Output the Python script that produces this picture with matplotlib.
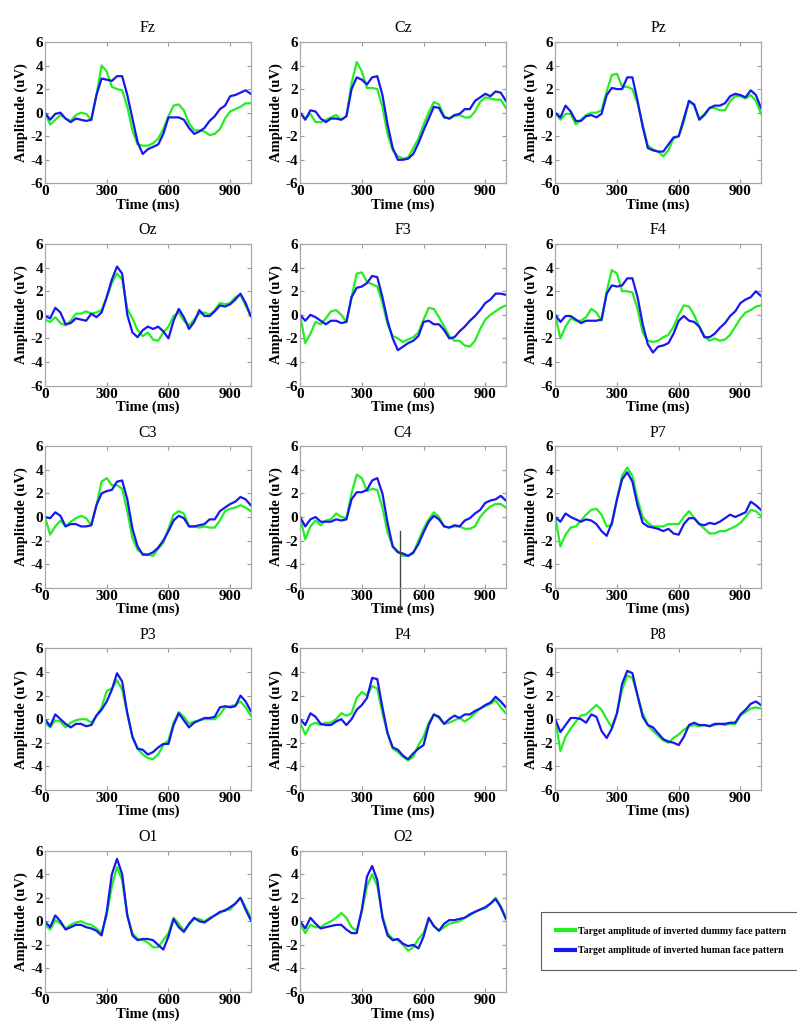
import numpy as np
import matplotlib.pyplot as plt
from matplotlib.lines import Line2D

plt.rcParams['font.family'] = ['Liberation Serif', 'DejaVu Serif']
plt.rcParams['axes.unicode_minus'] = False

# time axis (ms), values read every 25 ms
t = np.arange(0, 1001, 25)

# green = inverted dummy face, blue = inverted human face
fz_dummy = [0, -1.0, -0.6, -0.2, -0.5, -0.7, -0.2, 0.0, -0.1, -0.6, 1.5, 4.0, 3.5, 2.2, 2.0, 1.9, 0.5, -1.5, -2.7, -2.8, -2.8, -2.6, -2.2, -1.4, -0.3, 0.6, 0.7, 0.2, -0.9, -1.5, -1.5, -1.6, -1.9, -1.8, -1.4, -0.5, 0.1, 0.3, 0.5, 0.8, 0.8]
fz_human = [0, -0.6, -0.1, 0.0, -0.5, -0.8, -0.5, -0.6, -0.7, -0.6, 1.5, 2.9, 2.8, 2.7, 3.1, 3.1, 1.5, -0.5, -2.5, -3.5, -3.1, -2.9, -2.7, -1.8, -0.4, -0.4, -0.4, -0.6, -1.3, -1.8, -1.6, -1.3, -0.7, -0.3, 0.3, 0.6, 1.4, 1.5, 1.7, 1.9, 1.6]
cz_dummy = [0, -0.5, -0.1, -0.8, -0.8, -0.6, -0.4, -0.2, -0.6, -0.3, 2.5, 4.3, 3.5, 2.1, 2.1, 2.0, 0.5, -1.8, -3.2, -3.7, -3.9, -3.8, -3.0, -2.2, -1.0, 0.0, 0.9, 0.7, -0.3, -0.5, -0.3, -0.2, -0.4, -0.4, 0.1, 0.9, 1.3, 1.2, 1.1, 1.1, 0.4]
cz_human = [0, -0.6, 0.2, 0.1, -0.5, -0.8, -0.5, -0.5, -0.6, -0.3, 2.0, 3.0, 2.8, 2.4, 3.0, 3.1, 1.5, -1.0, -3.0, -4.0, -4.0, -3.9, -3.5, -2.6, -1.5, -0.5, 0.5, 0.4, -0.4, -0.5, -0.2, -0.1, 0.3, 0.3, 1.0, 1.3, 1.6, 1.4, 1.8, 1.7, 1.0]
pz_dummy = [0, -0.6, -0.1, -0.1, -1.0, -0.6, -0.2, 0.0, 0.0, 0.2, 1.8, 3.2, 3.3, 2.2, 2.2, 2.0, 0.8, -1.0, -2.8, -3.1, -3.3, -3.7, -3.2, -2.2, -2.0, -0.8, 1.0, 0.6, -0.5, -0.1, 0.4, 0.4, 0.2, 0.2, 1.0, 1.4, 1.4, 1.2, 1.5, 1.0, -0.1]
pz_human = [0, -0.4, 0.6, 0.1, -0.7, -0.7, -0.3, -0.2, -0.4, -0.1, 1.5, 2.1, 2.0, 2.0, 3.0, 3.0, 1.0, -1.2, -3.0, -3.2, -3.3, -3.3, -2.7, -2.1, -2.0, -0.5, 1.0, 0.7, -0.6, -0.2, 0.4, 0.6, 0.6, 0.8, 1.4, 1.6, 1.5, 1.3, 1.9, 1.5, 0.4]
oz_dummy = [-0.4, -0.6, -0.2, -0.7, -0.9, -0.5, 0.1, 0.1, 0.3, 0.1, 0.2, 0.4, 1.5, 2.7, 3.5, 3.0, 0.5, -0.3, -1.3, -1.8, -1.5, -2.1, -2.2, -1.5, -1.0, -0.1, 0.2, -0.5, -0.9, -0.4, 0.1, 0.2, 0.0, 0.4, 1.0, 0.9, 1.0, 1.5, 1.7, 0.8, -0.1]
oz_human = [-0.1, -0.3, 0.6, 0.2, -0.8, -0.7, -0.3, -0.4, -0.5, 0.1, -0.2, 0.2, 1.5, 3.0, 4.1, 3.5, 0.0, -1.5, -1.9, -1.3, -1.0, -1.2, -1.0, -1.4, -2.0, -0.5, 0.5, -0.2, -1.2, -0.6, 0.4, -0.1, -0.1, 0.3, 0.8, 0.7, 0.9, 1.3, 1.8, 1.0, -0.1]
f3_dummy = [0, -2.4, -1.6, -0.6, -0.8, -0.3, 0.3, 0.4, 0.0, -0.6, 1.5, 3.5, 3.6, 2.8, 2.6, 2.4, 1.0, -0.8, -1.8, -2.0, -2.3, -2.1, -1.9, -1.5, -0.4, 0.6, 0.5, -0.2, -1.0, -1.8, -2.2, -2.2, -2.6, -2.7, -2.2, -1.2, -0.4, 0.0, 0.3, 0.6, 0.8]
f3_human = [0, -0.5, 0.0, -0.2, -0.5, -0.8, -0.5, -0.5, -0.7, -0.6, 1.5, 2.3, 2.4, 2.7, 3.3, 3.2, 1.5, -0.5, -2.0, -3.0, -2.7, -2.4, -2.2, -1.8, -0.6, -0.5, -0.8, -0.8, -1.3, -2.0, -1.9, -1.4, -1.0, -0.5, -0.1, 0.4, 1.0, 1.3, 1.8, 1.8, 1.7]
f4_dummy = [0, -2.0, -1.0, -0.3, -0.5, -0.5, -0.2, 0.5, 0.2, -0.5, 2.0, 3.8, 3.5, 2.0, 2.0, 1.9, 0.5, -1.5, -2.2, -2.3, -2.2, -1.9, -1.7, -1.0, 0.0, 0.8, 0.7, 0.0, -1.0, -1.8, -2.2, -2.0, -2.2, -2.1, -1.7, -1.0, -0.3, 0.2, 0.4, 0.7, 0.8]
f4_human = [0, -0.6, -0.1, -0.1, -0.4, -0.7, -0.5, -0.5, -0.5, -0.4, 1.8, 2.5, 2.4, 2.5, 3.1, 3.1, 1.5, -0.8, -2.5, -3.2, -2.7, -2.6, -2.4, -1.6, -0.5, -0.1, -0.5, -0.6, -1.0, -1.9, -1.9, -1.6, -1.1, -0.7, -0.1, 0.3, 1.0, 1.3, 1.5, 2.0, 1.6]
c3_dummy = [0, -1.5, -0.8, -0.3, -0.8, -0.4, -0.1, 0.1, -0.1, -0.7, 1.0, 3.0, 3.3, 2.7, 2.7, 2.4, 0.5, -1.8, -2.8, -3.1, -3.2, -3.3, -2.7, -2.2, -1.0, 0.2, 0.5, 0.3, -0.8, -0.8, -0.9, -0.8, -0.9, -0.9, -0.3, 0.5, 0.7, 0.8, 1.0, 0.8, 0.5]
c3_human = [0, -0.1, 0.4, 0.1, -0.8, -0.6, -0.6, -0.8, -0.8, -0.7, 1.0, 2.0, 2.2, 2.3, 3.0, 3.1, 1.5, -1.0, -2.5, -3.2, -3.2, -3.0, -2.6, -2.0, -1.2, -0.3, 0.1, -0.1, -0.8, -0.8, -0.7, -0.6, -0.2, -0.2, 0.5, 0.8, 1.1, 1.3, 1.7, 1.5, 1.0]
c4_dummy = [0, -1.9, -0.8, -0.3, -0.7, -0.3, -0.2, 0.3, 0.0, -0.1, 2.0, 3.6, 3.3, 2.2, 2.4, 2.3, 0.8, -1.3, -2.5, -2.9, -3.3, -3.3, -3.1, -2.0, -1.0, -0.2, 0.4, 0.0, -0.8, -0.9, -0.8, -0.8, -1.0, -1.0, -0.8, 0.0, 0.5, 0.9, 1.1, 1.1, 0.8]
c4_human = [0, -0.8, -0.2, 0.0, -0.4, -0.4, -0.4, -0.2, -0.3, -0.2, 1.5, 2.1, 2.1, 2.3, 3.1, 3.3, 2.0, -0.5, -2.5, -3.0, -3.1, -3.3, -3.0, -2.3, -1.3, -0.4, 0.1, -0.2, -0.8, -0.9, -0.7, -0.8, -0.3, -0.1, 0.3, 0.6, 1.2, 1.4, 1.5, 1.8, 1.4]
p7_dummy = [0, -2.5, -1.5, -0.9, -0.8, -0.3, 0.2, 0.6, 0.7, 0.2, -0.8, -0.7, 1.5, 3.5, 4.2, 3.5, 1.5, 0.0, -0.5, -0.8, -0.8, -0.8, -0.6, -0.6, -0.6, 0.0, 0.5, -0.1, -0.6, -1.0, -1.4, -1.4, -1.2, -1.2, -1.0, -0.8, -0.5, 0.0, 0.6, 0.5, 0.1]
p7_human = [0, -0.4, 0.3, 0.0, -0.2, -0.4, -0.2, -0.3, -0.6, -1.2, -1.6, -0.5, 1.5, 3.2, 3.8, 3.0, 1.0, -0.5, -0.8, -0.9, -1.0, -1.2, -1.0, -1.4, -1.5, -0.6, -0.1, -0.1, -0.6, -0.7, -0.5, -0.6, -0.4, -0.1, 0.2, 0.0, 0.2, 0.4, 1.3, 1.0, 0.6]
p3_dummy = [-0.3, -0.7, -0.1, -0.2, -0.7, -0.3, -0.1, 0.0, 0.0, -0.3, 0.3, 1.0, 2.4, 2.6, 3.3, 2.5, 0.5, -1.5, -2.5, -3.0, -3.3, -3.4, -3.0, -2.2, -1.8, -0.3, 0.6, 0.2, -0.4, -0.2, -0.1, 0.0, 0.0, 0.0, 0.4, 1.0, 1.1, 1.2, 1.5, 1.0, 0.3]
p3_human = [0, -0.6, 0.4, 0.0, -0.4, -0.7, -0.4, -0.4, -0.6, -0.5, 0.3, 0.8, 1.5, 2.5, 3.9, 3.2, 0.5, -1.5, -2.5, -2.6, -3.0, -2.8, -2.4, -2.1, -2.1, -0.5, 0.5, -0.1, -0.7, -0.3, -0.1, 0.1, 0.1, 0.2, 1.0, 1.1, 1.0, 1.1, 2.0, 1.5, 0.7]
p4_dummy = [-0.3, -1.3, -0.5, -0.3, -0.5, -0.3, -0.3, 0.0, 0.5, 0.3, 0.5, 1.8, 2.3, 2.0, 2.8, 2.6, 0.5, -1.2, -2.5, -2.8, -3.2, -3.5, -3.2, -2.2, -1.5, -0.3, 0.4, 0.1, -0.4, -0.3, -0.1, 0.1, -0.2, 0.1, 0.5, 0.9, 1.1, 1.3, 1.6, 1.0, 0.5]
p4_human = [0, -0.5, 0.5, 0.2, -0.4, -0.5, -0.5, -0.2, 0.0, -0.5, 0.0, 0.8, 1.2, 1.8, 3.5, 3.4, 1.0, -1.2, -2.4, -2.6, -3.1, -3.4, -2.9, -2.5, -2.2, -0.5, 0.4, 0.2, -0.4, 0.0, 0.3, 0.1, 0.4, 0.4, 0.7, 0.9, 1.2, 1.4, 1.9, 1.5, 1.0]
p8_dummy = [0, -2.7, -1.5, -0.8, -0.2, 0.3, 0.4, 0.8, 1.2, 0.8, 0.0, -0.7, 0.5, 2.5, 3.7, 3.5, 2.0, 0.5, -0.5, -1.0, -1.4, -1.8, -2.0, -1.6, -1.3, -0.9, -0.6, -0.5, -0.6, -0.5, -0.6, -0.5, -0.4, -0.5, -0.4, -0.4, 0.3, 0.6, 0.9, 1.0, 0.9]
p8_human = [0, -1.1, -0.5, 0.1, 0.1, 0.0, -0.3, 0.4, 0.2, -1.0, -1.6, -0.8, 0.5, 3.0, 4.1, 3.9, 2.0, 0.2, -0.5, -0.7, -1.2, -1.7, -1.9, -2.0, -2.2, -1.5, -0.5, -0.3, -0.5, -0.5, -0.6, -0.4, -0.4, -0.4, -0.3, -0.3, 0.4, 0.8, 1.3, 1.5, 1.2]
o1_dummy = [-0.3, -0.7, 0.1, -0.2, -0.6, -0.3, -0.1, 0.0, -0.2, -0.3, -0.6, -1.0, 0.5, 3.0, 4.6, 3.5, 0.5, -1.0, -1.5, -1.6, -1.8, -2.2, -2.2, -1.6, -1.0, 0.3, -0.2, -0.8, -0.3, 0.2, 0.2, 0.0, 0.3, 0.5, 0.7, 1.0, 1.0, 1.5, 2.0, 1.2, 0.3]
o1_human = [0, -0.5, 0.5, 0.0, -0.7, -0.5, -0.3, -0.3, -0.5, -0.6, -0.8, -1.2, 0.8, 4.0, 5.3, 4.0, 0.5, -1.2, -1.6, -1.5, -1.5, -1.6, -2.0, -2.4, -1.3, 0.2, -0.5, -0.9, -0.2, 0.3, 0.0, -0.1, 0.2, 0.5, 0.8, 0.9, 1.2, 1.5, 2.0, 1.0, 0.1]
o2_dummy = [-0.2, -1.0, -0.3, -0.5, -0.5, -0.2, 0.0, 0.3, 0.7, 0.3, -0.5, -0.8, 0.8, 3.0, 4.0, 3.0, 0.5, -1.0, -1.5, -1.6, -2.0, -2.5, -2.2, -1.5, -1.0, 0.2, -0.4, -0.8, -0.5, -0.2, -0.1, 0.0, 0.3, 0.5, 0.8, 1.0, 1.1, 1.5, 2.0, 1.3, 0.3]
o2_human = [0, -0.6, 0.3, -0.2, -0.6, -0.5, -0.4, -0.3, -0.3, -0.7, -1.0, -1.0, 1.0, 3.8, 4.7, 3.5, 0.3, -1.2, -1.6, -1.5, -1.9, -2.1, -2.0, -2.3, -1.3, 0.3, -0.4, -0.8, -0.2, 0.1, 0.1, 0.2, 0.3, 0.6, 0.8, 1.0, 1.2, 1.5, 1.9, 1.2, 0.2]

channels = ['Fz', 'Cz', 'Pz', 'Oz', 'F3', 'F4', 'C3', 'C4', 'P7', 'P3', 'P4', 'P8', 'O1', 'O2']
dummy = [fz_dummy, cz_dummy, pz_dummy, oz_dummy, f3_dummy, f4_dummy, c3_dummy,
         c4_dummy, p7_dummy, p3_dummy, p4_dummy, p8_dummy, o1_dummy, o2_dummy]
human = [fz_human, cz_human, pz_human, oz_human, f3_human, f4_human, c3_human,
         c4_human, p7_human, p3_human, p4_human, p8_human, o1_human, o2_human]

legend_labels = ['Target amplitude of inverted dummy face pattern',
                 'Target amplitude of inverted human face pattern']

# stray vertical mark visible in the C4 panel of the original figure
c4_mark_x = 486
c4_mark_y = [-1.2, -8.0]

green = '#22ee22'
blue = '#1818ee'

fig, axes = plt.subplots(5, 3, figsize=(7.97, 10.24), dpi=100)
fig.subplots_adjust(left=45/797, right=761/797, top=1-42/1024, bottom=1-992/1024,
                    wspace=0.24, hspace=0.43)

for i, name in enumerate(channels):
    ax = axes.flat[i]
    ax.plot(t, dummy[i], color=green, lw=1.6, solid_joinstyle='round')
    ax.plot(t, human[i], color=blue, lw=1.6, solid_joinstyle='round')
    ax.set_xlim(0, 1000)
    ax.set_ylim(-6, 6)
    ax.set_xticks([0, 300, 600, 900])
    ax.set_yticks(range(-6, 7, 2))
    ax.tick_params(direction='in', top=True, right=True, length=3, width=0.8,
                   color='#999999', labelsize=11, pad=1.5)
    for lab in ax.get_xticklabels() + ax.get_yticklabels():
        lab.set_fontweight('bold')
    for sp in ax.spines.values():
        sp.set_color('#a8a8a8')
        sp.set_linewidth(0.9)
    ax.set_title(name, fontsize=11.5, pad=7)
    ax.set_xlabel('Time (ms)', fontsize=10.5, fontweight='bold', labelpad=0)
    ax.set_ylabel('Amplitude (uV)', fontsize=10.5, fontweight='bold', labelpad=1.5)
    if name == 'C4':
        ax.plot([c4_mark_x, c4_mark_x], c4_mark_y, color='#444444', lw=1.0, clip_on=False)

axes[4, 2].axis('off')

handles = [Line2D([], [], color=green, lw=3), Line2D([], [], color=blue, lw=3)]
leg = fig.legend(handles, legend_labels, loc='upper left',
                 bbox_to_anchor=(541/797, 1-912/1024),
                 prop={'family': 'Liberation Serif', 'weight': 'bold', 'size': 7.0},
                 frameon=True, fancybox=False, edgecolor='#333333',
                 handlelength=2.0, handletextpad=0.35, borderpad=1.5, labelspacing=1.1,
                 borderaxespad=0)
leg.get_frame().set_linewidth(0.8)

plt.savefig('out.png', dpi=100)
